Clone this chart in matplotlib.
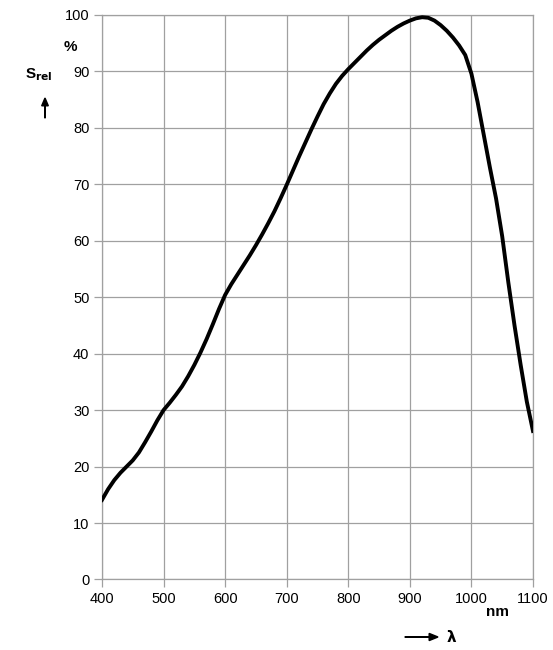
import matplotlib
matplotlib.use("Agg")
import matplotlib.pyplot as plt
from matplotlib.patches import FancyArrow

plt.rcParams['font.family'] = ['Liberation Sans', 'DejaVu Sans']

# wavelength (nm) and relative sensitivity (%)
wavelength = [400, 410, 420, 430, 440, 450, 460, 470, 480, 490, 500, 510, 520, 530,
              540, 550, 560, 570, 580, 590, 600, 610, 620, 630, 640, 650, 660, 670,
              680, 690, 700, 710, 720, 730, 740, 750, 760, 770, 780, 790, 800, 810,
              820, 830, 840, 850, 860, 870, 880, 890, 900, 910, 920, 930, 940, 950,
              960, 970, 980, 990, 1000, 1010, 1020, 1030, 1040, 1050, 1060, 1070,
              1080, 1090, 1100]
s_rel = [14.1, 16.0, 17.6, 18.9, 20.0, 21.1, 22.5, 24.3, 26.2, 28.2, 30.0, 31.3,
         32.7, 34.2, 36.0, 38.0, 40.2, 42.6, 45.2, 47.9, 50.4, 52.3, 54.0, 55.7,
         57.4, 59.2, 61.1, 63.1, 65.2, 67.5, 69.9, 72.4, 74.9, 77.3, 79.7, 82.0,
         84.2, 86.1, 87.8, 89.2, 90.4, 91.5, 92.6, 93.7, 94.7, 95.6, 96.4, 97.2,
         97.9, 98.5, 99.0, 99.4, 99.6, 99.5, 99.0, 98.2, 97.2, 96.0, 94.6, 92.9,
         89.6, 84.6, 78.8, 73.0, 67.5, 60.8, 52.6, 45.0, 38.0, 31.5, 26.3]

xticks = [400, 500, 600, 700, 800, 900, 1000, 1100]
yticks = [0, 10, 20, 30, 40, 50, 60, 70, 80, 90, 100]

fig = plt.figure(figsize=(5.53, 6.5), dpi=100)
ax = fig.add_axes([0.1844, 0.1085, 0.7794, 0.8685])

ax.plot(wavelength, s_rel, color='black', lw=2.8, zorder=3)

ax.set_xlim(400, 1100)
ax.set_ylim(0, 100)
ax.set_xticks(xticks)
ax.set_yticks(yticks)
ax.grid(True, color='#a0a0a0', lw=0.9)
for sp in ax.spines.values():
    sp.set_color('#a0a0a0')
    sp.set_linewidth(0.9)
ax.tick_params(length=6, width=0.9, color='#a0a0a0', labelsize=10.5, pad=3)

# axis labels
fig.text(70 / 553, 1 - 47 / 650, '%', fontsize=11, fontweight='bold', ha='center', va='center')
fig.text(25 / 553, 1 - 75 / 650, r'S$_{\mathbf{rel}}$', fontsize=11, fontweight='bold',
         ha='left', va='center')
fig.patches.append(FancyArrow(45 / 553, 1 - 118 / 650, 0, 20 / 650,
                              width=0.0005, head_width=0.012, head_length=0.012,
                              length_includes_head=True, color='black',
                              transform=fig.transFigure))
fig.text(498 / 553, 1 - 612 / 650, 'nm', fontsize=11, fontweight='bold', ha='center', va='center')
fig.patches.append(FancyArrow(405 / 553, 1 - 637 / 650, 33 / 553, 0,
                              width=0.0007, head_width=0.011, head_length=0.016,
                              length_includes_head=True, color='black',
                              transform=fig.transFigure))
fig.text(447 / 553, 1 - 637 / 650, 'λ', fontsize=11, fontweight='bold', ha='left', va='center',
         family='DejaVu Sans')

fig.savefig('out.png', dpi=100)
